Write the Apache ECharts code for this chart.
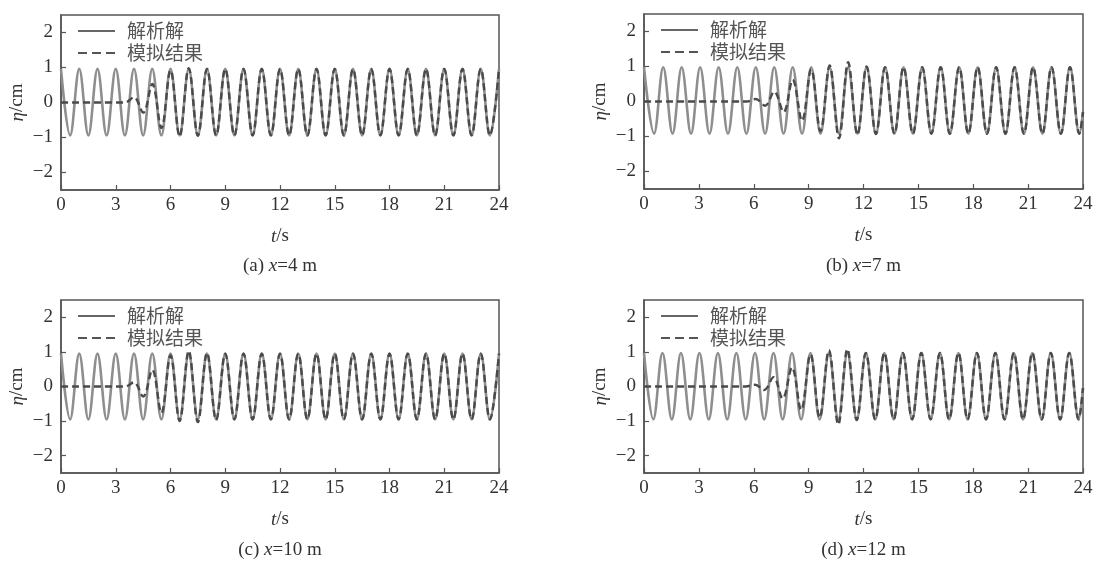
<!DOCTYPE html>
<html><head><meta charset="utf-8">
<script src="https://cdn.jsdelivr.net/npm/echarts@6/dist/echarts.min.js"></script>
<style>html,body{margin:0;padding:0;background:#fff}#c{width:1097px;height:561px}</style>
</head><body><div id="c"></div>
<script>
// ---- data (extrema times in s, elevations in cm) ----
const legendNames = ['解析解', '模拟结果'];
const captions = ['(a) {i|x}=4 m', '(b) {i|x}=7 m', '(c) {i|x}=10 m', '(d) {i|x}=12 m'];

const timesAC = [0,0.5,1,1.5,2,2.5,3,3.5,4,4.5,5,5.5,6,6.5,7,7.5,8,8.5,9,9.5,10,10.5,11,11.5,12,12.5,13,13.5,14,14.5,15,15.5,16,16.5,17,17.5,18,18.5,19,19.5,20,20.5,21,21.5,22,22.5,23,23.5,24];
const timesB = [0,0.55,1.05,1.56,2.06,2.57,3.07,3.58,4.08,4.59,5.10,5.60,6.11,6.62,7.12,7.63,8.13,8.64,9.14,9.65,10.15,10.66,11.16,11.67,12.17,12.68,13.18,13.69,14.19,14.70,15.21,15.71,16.22,16.72,17.23,17.73,18.24,18.75,19.25,19.76,20.26,20.77,21.27,21.78,22.28,22.79,23.29,23.80,24];
const timesD = [0,0.51,1.01,1.52,2.02,2.53,3.03,3.54,4.04,4.55,5.05,5.56,6.07,6.57,7.08,7.58,8.09,8.59,9.10,9.60,10.11,10.62,11.12,11.63,12.13,12.64,13.14,13.65,14.15,14.66,15.16,15.67,16.18,16.68,17.19,17.69,18.20,18.70,19.21,19.71,20.22,20.72,21.23,21.74,22.24,22.75,23.25,23.76,24];

const analyticA = [0.96,-0.94,0.96,-0.94,0.96,-0.94,0.96,-0.94,0.96,-0.94,
  0.96,-0.94,0.96,-0.94,0.96,-0.94,0.96,-0.94,0.96,-0.94,
  0.96,-0.94,0.96,-0.94,0.96,-0.94,0.96,-0.94,0.96,-0.94,
  0.96,-0.94,0.96,-0.94,0.96,-0.94,0.96,-0.94,0.96,-0.94,
  0.96,-0.94,0.96,-0.94,0.96,-0.94,0.96,-0.94,0.96];
const simA = [0,0,0,0,0,0,0,0,0.15,-0.29,
  0.53,-0.73,0.92,-0.97,0.98,-0.95,0.96,-0.94,0.96,-0.94,
  0.96,-0.94,0.96,-0.94,0.96,-0.94,0.96,-0.94,0.96,-0.94,
  0.96,-0.94,0.96,-0.94,0.96,-0.94,0.96,-0.94,0.96,-0.94,
  0.96,-0.94,0.96,-0.94,0.96,-0.94,0.96,-0.94,0.96];

const analyticB = [0.98,-0.92,0.98,-0.92,0.98,-0.92,0.98,-0.92,0.98,-0.92,
  0.98,-0.92,0.98,-0.92,0.98,-0.92,0.98,-0.92,0.98,-0.92,
  0.98,-0.92,0.98,-0.92,0.98,-0.92,0.98,-0.92,0.98,-0.92,
  0.98,-0.92,0.98,-0.92,0.98,-0.92,0.98,-0.92,0.98,-0.92,
  0.98,-0.92,0.98,-0.92,0.98,-0.92,0.98,-0.92,-0.3];
const simB = [0,0,0,0,0,0,0,0,0,0,
  0,0,0.07,-0.12,0.28,-0.3,0.62,-0.55,0.92,-0.85,
  1.03,-1.05,1.12,-0.95,1.0,-0.93,0.98,-0.92,0.98,-0.92,
  0.98,-0.92,0.98,-0.92,0.98,-0.92,0.98,-0.92,0.98,-0.92,
  0.98,-0.92,0.98,-0.92,0.98,-0.92,0.98,-0.92,-0.3];

const analyticC = [0.95,-0.95,0.95,-0.95,0.95,-0.95,0.95,-0.95,0.95,-0.95,
  0.95,-0.95,0.95,-0.95,0.95,-0.95,0.95,-0.95,0.95,-0.95,
  0.95,-0.95,0.95,-0.95,0.95,-0.95,0.95,-0.95,0.95,-0.95,
  0.95,-0.95,0.95,-0.95,0.95,-0.95,0.95,-0.95,0.95,-0.95,
  0.95,-0.95,0.95,-0.95,0.95,-0.95,0.95,-0.95,0.95];
const simC = [0,0,0,0,0,0,0,0,0.12,-0.29,
  0.48,-0.76,0.9,-1.0,1.03,-1.03,0.97,-0.97,0.95,-0.95,
  0.95,-0.95,0.95,-0.95,0.95,-0.95,0.95,-0.95,0.95,-0.95,
  0.95,-0.95,0.95,-0.95,0.95,-0.95,0.95,-0.95,0.95,-0.95,
  0.95,-0.95,0.95,-0.95,0.95,-0.95,0.95,-0.95,0.95];

const analyticD = [0.97,-0.95,0.97,-0.95,0.97,-0.95,0.97,-0.95,0.97,-0.95,
  0.97,-0.95,0.97,-0.95,0.97,-0.95,0.97,-0.95,0.97,-0.95,
  0.97,-0.95,0.97,-0.95,0.97,-0.95,0.97,-0.95,0.97,-0.95,
  0.97,-0.95,0.97,-0.95,0.97,-0.95,0.97,-0.95,0.97,-0.95,
  0.97,-0.95,0.97,-0.95,0.97,-0.95,0.97,-0.95,-0.05];
const simD = [0,0,0,0,0,0,0,0,0,0,
  0,0,0.05,-0.1,0.27,-0.35,0.55,-0.68,0.93,-0.9,
  1.05,-1.1,1.08,-0.97,0.97,-0.95,0.97,-0.95,0.97,-0.95,
  0.97,-0.95,0.97,-0.95,0.97,-0.95,0.97,-0.95,0.97,-0.95,
  0.97,-0.95,0.97,-0.95,0.97,-0.95,0.97,-0.95,-0.05];

// ---- layout ----
const SERIF = '"Liberation Serif", "DejaVu Serif", serif';
const CJK = '"Noto Sans CJK SC", sans-serif';
const ANA_COLOR = '#8e8e8e', SIM_COLOR = '#4a4a4a', TXT = '#333';
const panels = [
  {grid: {left: 61, top: 15, width: 438, height: 175}, times: timesAC, ana: analyticA, sim: simA, capY: 266},
  {grid: {left: 644, top: 14, width: 439, height: 175}, times: timesB, ana: analyticB, sim: simB, capY: 266},
  {grid: {left: 61, top: 300, width: 438, height: 173}, times: timesAC, ana: analyticC, sim: simC, capY: 550},
  {grid: {left: 644, top: 300, width: 439, height: 173}, times: timesD, ana: analyticD, sim: simD, capY: 550}
];
const zip = (t, v) => t.map((x, i) => [x, v[i]]);
const solidIcon = 'path://M0,0h37v2h-37z';
const dashIcon = 'path://M0,0h9v2h-9zM14,0h9v2h-9zM28,0h9v2h-9z';
const nameStyle = {fontFamily: SERIF, fontSize: 19, color: TXT,
  rich: {i: {fontFamily: SERIF, fontSize: 19, fontStyle: 'italic', color: TXT}}};

const grids = [], xAxes = [], yAxes = [], series = [], legends = [], graphics = [];
panels.forEach((p, i) => {
  grids.push(Object.assign({show: true, borderColor: '#555', borderWidth: 1.5, containLabel: false}, p.grid));
  xAxes.push({
    gridIndex: i, type: 'value', min: 0, max: 24, interval: 3,
    axisLine: {show: true, onZero: false, lineStyle: {color: '#555', width: 1.5}},
    axisTick: {show: true, inside: true, length: 5, lineStyle: {color: '#555', width: 1.2}},
    axisLabel: {fontFamily: SERIF, fontSize: 19, color: TXT, margin: 6},
    splitLine: {show: false},
    name: '{i|t}/s', nameLocation: 'middle', nameGap: 37, nameTextStyle: nameStyle
  });
  yAxes.push({
    gridIndex: i, type: 'value', min: -2.5, max: 2.5, minInterval: 1, maxInterval: 1,
    axisLine: {show: true, onZero: false, lineStyle: {color: '#555', width: 1.5}},
    axisTick: {show: true, inside: true, length: 5, lineStyle: {color: '#555', width: 1.2}},
    axisLabel: {fontFamily: SERIF, fontSize: 19, color: TXT, margin: 8,
      showMinLabel: false, showMaxLabel: false,
      formatter: v => Number.isInteger(v) ? (v < 0 ? '\u2212' + (-v) : String(v)) : ''},
    splitLine: {show: false},
    name: '{i|η}/cm', nameLocation: 'middle', nameGap: 34, nameRotate: 90, nameTextStyle: nameStyle
  });
  series.push({
    type: 'line', name: legendNames[0], xAxisIndex: i, yAxisIndex: i,
    data: zip(p.times, p.ana), smooth: 0.37, symbol: 'none', showSymbol: false,
    lineStyle: {color: ANA_COLOR, width: 2.6}, itemStyle: {color: ANA_COLOR}, z: 2
  });
  series.push({
    type: 'line', name: legendNames[1], xAxisIndex: i, yAxisIndex: i,
    data: zip(p.times, p.sim), smooth: 0.37, symbol: 'none', showSymbol: false,
    lineStyle: {color: SIM_COLOR, width: 2.4, type: [7, 4]}, itemStyle: {color: SIM_COLOR}, z: 3
  });
  legends.push({
    orient: 'vertical', left: p.grid.left + 17, top: p.grid.top + 6, padding: 0,
    itemWidth: 37, itemHeight: 2, itemGap: 2, selectedMode: false,
    data: [
      {name: legendNames[0], icon: solidIcon, itemStyle: {color: '#666'}},
      {name: legendNames[1], icon: dashIcon, itemStyle: {color: '#555'}}
    ],
    textStyle: {fontFamily: CJK, fontSize: 19, lineHeight: 20, color: '#555', padding: [0, 0, 0, 7]}
  });
  graphics.push({
    type: 'text', x: p.grid.left + p.grid.width / 2, y: p.capY,
    style: {text: captions[i], fontFamily: SERIF, fontSize: 19, fill: TXT,
      align: 'center', verticalAlign: 'middle',
      rich: {i: {fontFamily: SERIF, fontSize: 19, fontStyle: 'italic', fill: TXT}}}
  });
});

const chart = echarts.init(document.getElementById('c'), null, {renderer: 'canvas'});
chart.setOption({
  animation: false,
  backgroundColor: '#ffffff',
  grid: grids, xAxis: xAxes, yAxis: yAxes, series: series,
  legend: legends, graphic: graphics
});
</script></body></html>
